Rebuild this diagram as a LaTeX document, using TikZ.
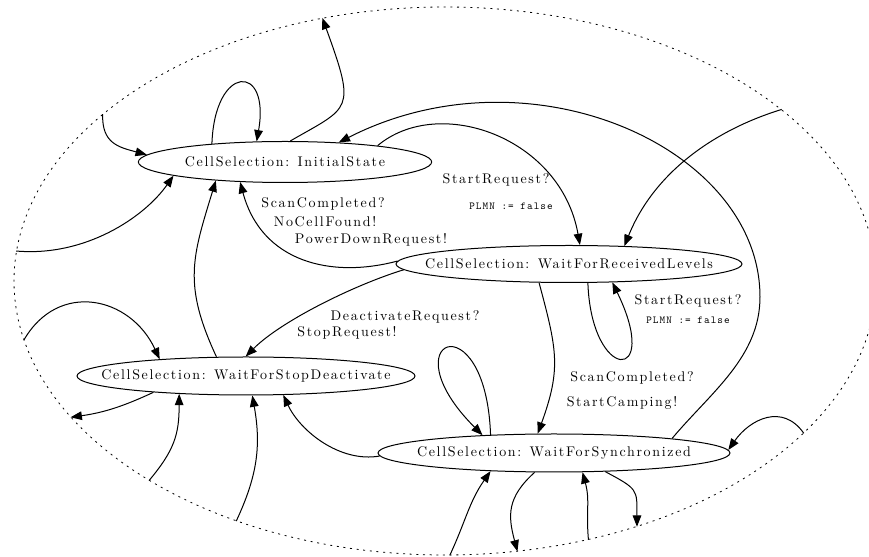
\documentclass[tikz,border=0pt]{standalone}
\usepackage{fontspec}
\usepackage{tikz}
\usetikzlibrary{arrows.meta,shapes}
\newfontfamily\spacedrm{lmroman10-regular.otf}[LetterSpace=12]
\newfontfamily\spacedtt{lmmono10-regular.otf}[LetterSpace=10]
\tikzstyle{arrow}=[draw,-{Triangle[length=8.5pt,width=6.5pt]},line width=0.75pt]
\tikzstyle{tstate}=[ellipse,draw,line width=0.75pt,inner sep=0pt,font=\spacedrm\fontsize{10.5}{12}\selectfont]
\tikzstyle{tlabel}=[inner sep=0pt,font=\spacedrm\fontsize{10.5}{12}\selectfont]
\tikzstyle{tcode}=[inner sep=0pt,font=\spacedtt\fontsize{8}{9}\selectfont]
\tikzstyle{tenv}=[ellipse,draw,line width=0.6pt,dash pattern=on 1.5pt off 3.5pt,inner sep=0pt]

\begin{document}
\begin{tikzpicture}[x=0.75pt,y=0.75pt]
\useasboundingbox (0,0) rectangle (869,557);
% environment boundary
\node [tenv,minimum width=646.5pt,minimum height=411pt] (env) at (445,276) {};
% states
\node [tstate,minimum width=220pt,minimum height=30.75pt] (init) at (285,395) {\makebox[0pt]{CellSelection: InitialState}};
\node [tstate,minimum width=259.5pt,minimum height=27.75pt] (recv) at (569,293) {\makebox[0pt]{CellSelection: WaitForReceivedLevels}};
\node [tstate,minimum width=253.5pt,minimum height=28.5pt] (stop) at (246,181) {\makebox[0pt]{CellSelection: WaitForStopDeactivate}};
\node [tstate,minimum width=264pt,minimum height=28.5pt] (sync) at (554,104) {\makebox[0pt]{CellSelection: WaitForSynchronized}};
\coordinate (bend) at (760,260);

% transition labels
\node [tlabel] (scan1) at (323,353) {ScanCompleted?};
\node [tlabel] (nocell) at (325,335) {NoCellFound!};
\node [tlabel] (pdown) at (371,317) {PowerDownRequest!};
\node [tlabel] (start1) at (496,377) {StartRequest?};
\node [tcode] (plmn1) at (511,351) {PLMN := false};
\node [tlabel] (start2) at (688,256) {StartRequest?};
\node [tcode] (plmn2) at (688,237) {PLMN := false};
\node [tlabel] (scan2) at (632,179) {ScanCompleted?};
\node [tlabel] (camp) at (622,154) {StartCamping!};
\node [tlabel] (deact) at (405,240) {DeactivateRequest?};
\node [tlabel] (stopreq) at (347,224) {StopRequest!};

% InitialState
\draw[arrow] (init.166) to[out=88,in=80,distance=60pt] (init.144);
\draw[arrow] (init.76) to[out=30,in=-70,out distance=52pt,in distance=75pt] (env.115.8);
\draw[arrow] (env.154.3) to[out=-92,in=165,distance=22pt] (init.177);
\draw[arrow] (env.176.8) to[out=-5,in=-125,out distance=52pt,in distance=38pt] (init.187);
\draw[arrow] (init.10) to[out=40,in=100,out distance=60pt,in distance=82pt] (recv.60);

% WaitForReceivedLevels
\draw[arrow] (env.27.3) to[out=197,in=68,out distance=52pt,in distance=60pt] (recv.18);
\draw[arrow] (recv.179) to[out=195,in=-75,out distance=52pt,in distance=62pt] (init.204);
\draw[arrow] (recv.-45) to[out=-88,in=-64,out distance=75pt,in distance=85pt] (recv.-23);
\draw[arrow] (recv.-148.6) to[out=-75,in=70,distance=52pt] (sync.130);
\draw[arrow] (recv.182) to[out=197,in=45,distance=38pt] (stop.91);

% WaitForStopDeactivate
\draw[arrow] (stop.147) to[out=115,in=-107,distance=60pt] (init.195);
\draw[arrow] (env.188.7) to[out=60,in=115,distance=52pt] (stop.169);
\draw[arrow] (stop.190) to[out=205,in=8,distance=25pt] (env.200.2);
\draw[arrow] (env.214.2) to[out=50,in=-90,distance=30pt] (stop.195);
\draw[arrow] (env.229) to[out=65,in=-80,distance=38pt] (stop.-72.5);

% WaitForSynchronized
\draw[arrow] (sync.7) to[out=50,in=-90,distance=45pt] (bend) to[out=90,in=27,out distance=112pt,in distance=161pt] (init.20);
\draw[arrow] (sync.164) to[out=92,in=135,distance=102pt] (sync.166.5);
\draw[arrow] (sync.181) to[out=190,in=-65,distance=30pt] (stop.-27);
\draw[arrow] (env.337.1) to[out=125,in=55,distance=28pt] (sync.1);
\draw[arrow] (sync.-20) to[out=-28,in=90,distance=28pt] (env.308);
\draw[arrow] (env.299.8) to[out=95,in=-75,distance=22pt] (sync.-34);
\draw[arrow] (sync.-135) to[out=222,in=105,distance=28pt] (env.285.1);
\draw[arrow] (env.271.7) to[out=65,in=-125,distance=28pt] (sync.196);
\end{tikzpicture}
\end{document}
